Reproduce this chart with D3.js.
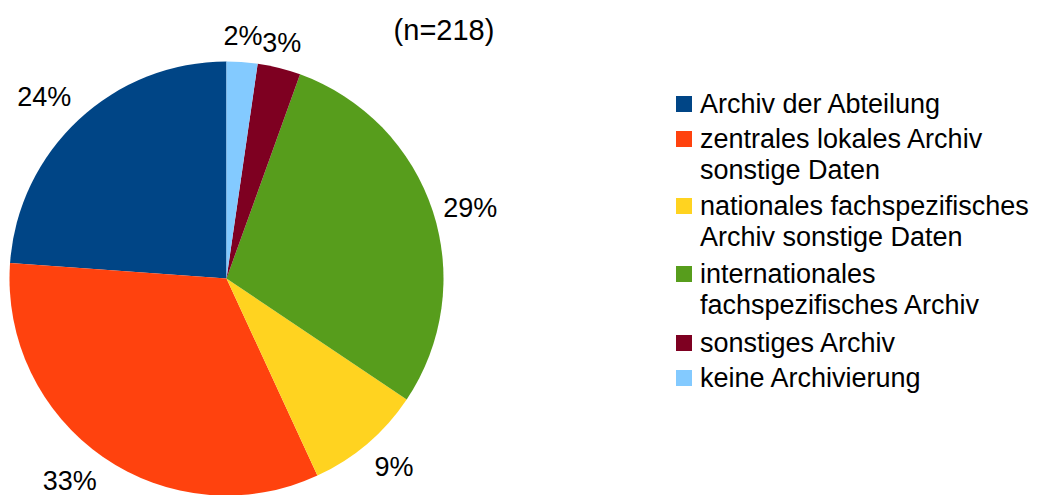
<!DOCTYPE html>
<html>
<head>
<meta charset="utf-8">
<script src="https://cdn.jsdelivr.net/npm/d3@7"></script>
<style>
  body { margin: 0; background: #fff; }
  text { font-family: 'Liberation Sans', Arial, sans-serif; fill: #000; }
</style>
</head>
<body>
<svg id="chart"></svg>
<script>
(function() {

  const categories = [
    'Archiv der Abteilung',
    'zentrales lokales Archiv sonstige Daten',
    'nationales fachspezifisches Archiv sonstige Daten',
    'internationales fachspezifisches Archiv',
    'sonstiges Archiv',
    'keine Archivierung'
  ];
  const legendLines = [
    ['Archiv der Abteilung'],
    ['zentrales lokales Archiv', 'sonstige Daten'],
    ['nationales fachspezifisches', 'Archiv sonstige Daten'],
    ['internationales', 'fachspezifisches Archiv'],
    ['sonstiges Archiv'],
    ['keine Archivierung']
  ];
  // estimated answer counts (n=218), shown as rounded percentages
  const values = [52, 72, 19, 63, 7, 5];
  const colors = ['#004586', '#ff420e', '#ffd320', '#579d1c', '#7e0021', '#83caff'];
  const subtitle = '(n=218)';

  const width = 1039;
  const height = 495;
  const cx = 226.5;
  const cy = 278.5;
  const radius = 217;
  const labelRadius = 228;

  const svg = d3.select('#chart')
    .attr('width', width)
    .attr('height', height);

  const total = d3.sum(values);
  const data = categories.map(function(c, i) {
    return { name: c, value: values[i], color: colors[i] };
  });

  // slices run counter-clockwise from 12 o'clock
  const pie = d3.pie()
    .sort(null)
    .value(function(d) { return d.value; })
    .startAngle(2 * Math.PI)
    .endAngle(0);

  const arc = d3.arc().innerRadius(0).outerRadius(radius);
  const labelArc = d3.arc().innerRadius(labelRadius).outerRadius(labelRadius);

  const pieGroup = svg.append('g')
    .attr('transform', 'translate(' + cx + ',' + cy + ')');

  const arcs = pie(data);

  pieGroup.selectAll('path')
    .data(arcs)
    .enter()
    .append('path')
    .attr('d', arc)
    .attr('fill', function(d) { return d.data.color; });

  const labelSize = 27;
  const ascent = 0.905 * labelSize;
  const descent = 0.212 * labelSize;
  const lim = Math.sin(Math.PI / 8);

  pieGroup.selectAll('text.pct')
    .data(arcs)
    .enter()
    .append('text')
    .attr('class', 'pct')
    .style('font-size', labelSize + 'px')
    .text(function(d) { return Math.round(d.data.value / total * 100) + '%'; })
    .each(function(d) {
      const p = labelArc.centroid(d);
      const a = (d.startAngle + d.endAngle) / 2;
      const s = Math.sin(a);
      const c = Math.cos(a);
      let anchor = 'middle';
      if (s > lim) anchor = 'start';
      if (s < -lim) anchor = 'end';
      let y = p[1] + (ascent - descent) / 2;
      if (c > lim) y = p[1] - descent;
      if (c < -lim) y = p[1] + ascent;
      d3.select(this)
        .attr('text-anchor', anchor)
        .attr('x', p[0])
        .attr('y', y);
    });

  svg.append('text')
    .attr('x', 444)
    .attr('y', 40)
    .attr('text-anchor', 'middle')
    .style('font-size', '29px')
    .text(subtitle);

  // legend
  const legendX = 676;
  const rowY = [113, 148, 215, 283, 352, 387];
  const lineStep = 31;

  const legend = svg.append('g').attr('class', 'legend');

  const item = legend.selectAll('g')
    .data(data)
    .enter()
    .append('g')
    .attr('transform', function(d, i) {
      return 'translate(' + legendX + ',' + rowY[i] + ')';
    });

  item.append('rect')
    .attr('x', 0)
    .attr('y', -17)
    .attr('width', 16)
    .attr('height', 16)
    .attr('fill', function(d) { return d.color; });

  item.append('text')
    .attr('x', 24)
    .attr('y', 0)
    .style('font-size', '27px')
    .selectAll('tspan')
    .data(function(d, i) { return legendLines[i]; })
    .enter()
    .append('tspan')
    .attr('x', 24)
    .attr('dy', function(d, i) { return i === 0 ? 0 : lineStep; })
    .text(function(d) { return d; });

})();
</script>
</body>
</html>
